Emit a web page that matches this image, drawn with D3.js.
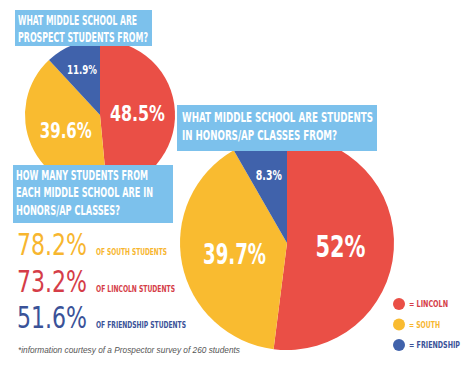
<!DOCTYPE html>
<html>
<head>
<meta charset="utf-8">
<script src="https://cdn.jsdelivr.net/npm/d3@7"></script>
<style>
  body { margin: 0; background: #fff; }
  svg { display: block; }
  .cond { font-family: "Liberation Sans Narrow", "DejaVu Sans Condensed", "Roboto", sans-serif; }
</style>
</head>
<body>
<div id="chart"></div>
<script>
var schools = ["Lincoln", "South", "Friendship"];
var prospectPct = [48.5, 39.6, 11.9];
var honorsPct = [52, 39.7, 8.3];
var rateSchools = ["South", "Lincoln", "Friendship"];
var ratePct = [78.2, 73.2, 51.6];
var title1 = ["WHAT MIDDLE SCHOOL ARE", "PROSPECT STUDENTS FROM?"];
var title2 = ["WHAT MIDDLE SCHOOL ARE  STUDENTS", "IN HONORS/AP CLASSES FROM?"];
var title3 = ["HOW MANY STUDENTS FROM", "EACH MIDDLE SCHOOL ARE IN", "HONORS/AP CLASSES?"];
var footnote = "*information courtesy of a Prospector survey of 260 students";

var W = 475, H = 365;
var color = d3.scaleOrdinal().domain(schools).range(["#ea4f46", "#f9bb30", "#4062ab"]);
var textColor = d3.scaleOrdinal().domain(schools).range(["#d53d48", "#f7b62f", "#3a5298"]);
var boxColor = "#7cc1ec";

var svg = d3.select("#chart").append("svg")
  .attr("width", W).attr("height", H);

var pie = d3.pie().sort(null).value(d => d.v);

function drawPie(vals, cx, cy, R, sizes) {
  var g = svg.append("g").attr("transform", `translate(${cx},${cy})`);
  var arcs = pie(schools.map((s, i) => ({ s: s, v: vals[i] })));
  var arc = d3.arc().innerRadius(0).outerRadius(R);
  g.selectAll("path").data(arcs).enter().append("path")
    .attr("d", arc)
    .attr("fill", d => color(d.data.s));
  g.selectAll("text").data(arcs).enter().append("text")
    .attr("class", "cond")
    .attr("transform", d => {
      var k = d.data.v < 15 ? 0.66 : 0.5;
      var c = d3.arc().innerRadius(R * k).outerRadius(R * k).centroid(d);
      return `translate(${c[0]},${c[1]})`;
    })
    .attr("text-anchor", "middle")
    .attr("dy", "0.36em")
    .attr("fill", "#fff")
    .attr("font-weight", "bold")
    .attr("font-size", (d, i) => sizes[i][0])
    .attr("textLength", (d, i) => sizes[i][1])
    .attr("lengthAdjust", "spacingAndGlyphs")
    .text(d => d3.format(".3~")(d.data.v) + "%");
}

// small pie first, big pie on top
drawPie(prospectPct, 100, 115, 75, [[22, 55], [22, 52], [13, 30]]);
drawPie(honorsPct, 287, 243, 107, [[30, 50], [28, 63], [14, 26]]);

function drawBox(lines, x, y, w, h, tx, baselines, widths) {
  svg.append("rect").attr("x", x).attr("y", y).attr("width", w).attr("height", h)
    .attr("fill", boxColor);
  svg.selectAll(null).data(lines).enter().append("text")
    .attr("class", "cond")
    .attr("x", tx)
    .attr("y", (d, i) => baselines[i])
    .attr("fill", "#fff")
    .attr("font-weight", "bold")
    .attr("font-size", 14)
    .attr("textLength", (d, i) => widths[i])
    .attr("lengthAdjust", "spacingAndGlyphs")
    .text(d => d);
}

drawBox(title1, 15, 10, 137, 36, 18, [25, 42], [119, 130]);
drawBox(title2, 177, 105, 200, 46, 182, [122, 140], [191, 155]);
drawBox(title3, 13, 165, 160, 58, 16, [180, 197, 215], [132, 137, 104]);

// rates
var rateY = d3.scalePoint().domain(rateSchools).range([255, 328]);
var rows = svg.selectAll(".rate").data(rateSchools).enter().append("g").attr("class", "rate");
rows.append("text")
  .attr("class", "cond")
  .attr("x", 17)
  .attr("y", d => rateY(d))
  .attr("fill", d => textColor(d))
  .attr("font-size", 31)
  .attr("textLength", 70)
  .attr("lengthAdjust", "spacingAndGlyphs")
  .text((d, i) => ratePct[i].toFixed(1) + "%");
rows.append("text")
  .attr("class", "cond")
  .attr("x", 96)
  .attr("y", d => rateY(d))
  .attr("fill", d => textColor(d))
  .attr("font-weight", "bold")
  .attr("font-size", 9)
  .attr("textLength", d => ({ South: 71, Lincoln: 79, Friendship: 90 })[d])
  .attr("lengthAdjust", "spacingAndGlyphs")
  .text(d => "OF " + d.toUpperCase() + " STUDENTS");

svg.append("text")
  .attr("x", 18).attr("y", 353)
  .attr("font-family", "Liberation Sans, Arial, sans-serif")
  .attr("font-style", "italic")
  .attr("font-size", 8.5)
  .attr("fill", "#555")
  .attr("textLength", 222)
  .attr("lengthAdjust", "spacingAndGlyphs")
  .text(footnote);

// legend
var legY = d3.scalePoint().domain(schools).range([304, 345]);
var leg = svg.selectAll(".leg").data(schools).enter().append("g").attr("class", "leg");
leg.append("circle")
  .attr("cx", 399).attr("cy", d => legY(d)).attr("r", 6)
  .attr("fill", d => color(d));
leg.append("text")
  .attr("class", "cond")
  .attr("x", 409).attr("y", d => legY(d))
  .attr("dy", "0.35em")
  .attr("fill", d => textColor(d))
  .attr("font-weight", "bold")
  .attr("font-size", 9)
  .attr("textLength", d => ({ Lincoln: 39, South: 31, Friendship: 51 })[d])
  .attr("lengthAdjust", "spacingAndGlyphs")
  .text(d => "= " + d.toUpperCase());
</script>
</body>
</html>
